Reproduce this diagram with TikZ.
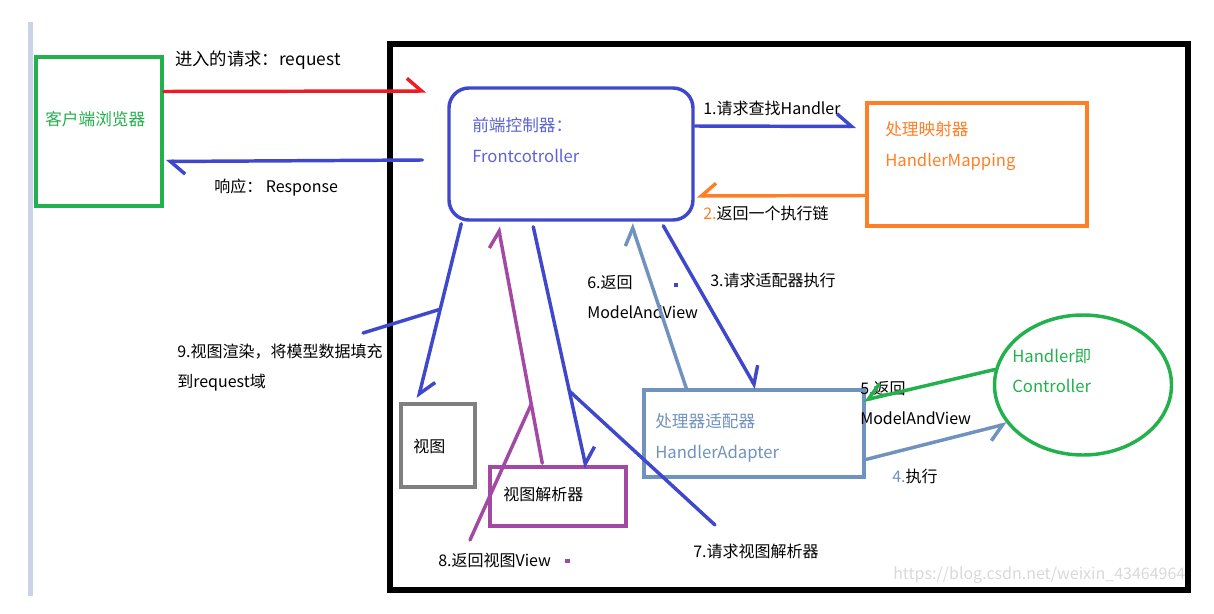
\documentclass[tikz,border=0pt]{standalone}
\usepackage{fontspec}
\setmainfont{Noto Sans CJK SC}
\usetikzlibrary{arrows.meta,shapes.geometric}
\definecolor{pblue}{HTML}{3F48CC}
\definecolor{pred}{HTML}{ED1C24}
\definecolor{pgreen}{HTML}{22B14C}
\definecolor{porange}{HTML}{FF7F27}
\definecolor{psteel}{HTML}{7092BE}
\definecolor{ppurple}{HTML}{A349A4}
\definecolor{pgray}{HTML}{7F7F7F}
\definecolor{pbar}{HTML}{CBD4E6}

\begin{document}
\begin{tikzpicture}[x=0.75pt,y=-0.75pt,
boxnode/.style={rectangle, line width=2.6pt, inner sep=0pt, fill=white},
txt/.style={anchor=west, inner sep=0pt, align=left, font=\fontsize{12}{22.5}\selectfont},
boxtxt/.style={txt, font=\fontsize{12.5}{23}\selectfont},
hand/.style={line width=2.6pt, line cap=round},
barbL/.style={hand, -{Straight Barb[left,length=11pt,width=19pt]}},
barbR/.style={hand, -{Straight Barb[right,length=11pt,width=19pt]}}
]
\useasboundingbox (0,0) rectangle (1214,614);
\fill[pbar] (28,22) rectangle (33,596);
\node[txt, text=black!15] (wm) at (893,575) {https://blog.csdn.net/weixin\_43464964};
\draw[line width=4.2pt] (390,44) rectangle (1188,590);
%Nodes
\node[boxnode, draw=pgreen, minimum width=94.5pt, minimum height=111.75pt] (br) at (99,131.5) {};
\node[boxnode, draw=pblue, rounded corners=15pt, minimum width=183pt, minimum height=99pt] (fc) at (571,154) {};
\node[boxnode, draw=porange, minimum width=165pt, minimum height=92.25pt] (mp) at (977,164.5) {};
\node[boxnode, draw=pgray, minimum width=55.5pt, minimum height=62.25pt] (vw) at (438,445.5) {};
\node[boxnode, draw=ppurple, minimum width=102pt, minimum height=44.25pt] (vr) at (558,496.5) {};
\node[boxnode, draw=psteel, minimum width=165pt, minimum height=65.25pt] (ad) at (754,433.5) {};
\node[ellipse, draw=pgreen, line width=2.6pt, inner sep=0pt, minimum width=132.75pt, minimum height=105pt] (ct) at (1083,385) {};
%Texts
\node[boxtxt, text=pgreen] (brt) at (45,119) {客户端浏览器};
\node[boxtxt, text=pblue!85] (fct) at (472,140) {前端控制器：\\Frontcotroller};
\node[boxtxt, text=porange] (mpt) at (885,146) {处理映射器\\HandlerMapping};
\node[boxtxt, text=psteel] (adt) at (655,438) {处理器适配器\\HandlerAdapter};
\node[boxtxt, text=pgreen] (ctt) at (1012,371) {Handler即\\Controller};
\node[txt] (vwt) at (413,446) {视图};
\node[txt] (vrt) at (503,494) {视图解析器};
\node[txt, font=\fontsize{13}{15}\selectfont] (lreq) at (175,60) {进入的请求：request};
\node[txt] (lres) at (214,188) {响应： Response};
\node[txt] (l1) at (703,108) {1.请求查找Handler};
\node[txt] (l2) at (703,213) {\textcolor{porange}{2.}返回一个执行链};
\node[txt] (l3) at (710,280) {3.请求适配器执行};
\node[txt] (l4) at (892,476) {\textcolor{psteel}{4.}执行};
\node[txt] (l5) at (860,403) {5.返回\\ModelAndView};
\node[txt] (l6) at (587,297) {6.返回\\ModelAndView};
\node[txt] (l7) at (693,551) {7.请求视图解析器};
\node[txt] (l8) at (438,560) {8.返回视图View};
\node[txt] (l9) at (177,368) {9.视图渲染，将模型数据填充\\到request域};
\fill[pblue] (674,283) rectangle (678,287);
\fill[ppurple] (565,559) rectangle (570,563);
\coordinate (e9) at (363,333);
\coordinate (e8) at (470,540);
\coordinate (e7) at (715,525);
%Lines
\draw[barbL, pred] ([shift={(0,-40)}]br.east) -- ([shift={(-21,-63)}]fc.west);
\draw[barbL, pblue] ([shift={(-25,6)}]fc.west) -- ([shift={(2,30)}]br.east);
\draw[barbL, pblue] ([shift={(0,-28)}]fc.east) -- ([shift={(-9,-38)}]mp.west);
\draw[barbR, porange] ([shift={(0,31)}]mp.west) -- ([shift={(2,42)}]fc.east);
\draw[barbL, pblue] ([shift={(216,4)}]fc.south west) -- ([shift={(114,0)}]ad.north west);
\draw[barbR, psteel] ([shift={(0,26)}]ad.east) -- (ct.207);
\draw[barbR, pgreen] (ct.170) -- ([shift={(-2,12)}]ad.north east);
\draw[barbL, psteel] ([shift={(44,0)}]ad.north west) -- ([shift={(184,2)}]fc.south west);
\draw[barbL, pblue] ([shift={(86,5)}]fc.south west) -- coordinate[pos=0.68] (k7) ([shift={(98,3)}]vr.north west);
\draw[hand, pblue] (k7) -- (e7);
\draw[barbL, ppurple] ([shift={(54,-2)}]vr.north west) -- coordinate[pos=0.25] (k8) ([shift={(51,5)}]fc.south west);
\draw[hand, ppurple] (k8) -- (e8);
\draw[barbL, pblue] ([shift={(14,2)}]fc.south west) -- coordinate[pos=0.49] (k9) ([shift={(19,-4)}]vw.north west);
\draw[hand, pblue] (k9) -- (e9);
\end{tikzpicture}
\end{document}
